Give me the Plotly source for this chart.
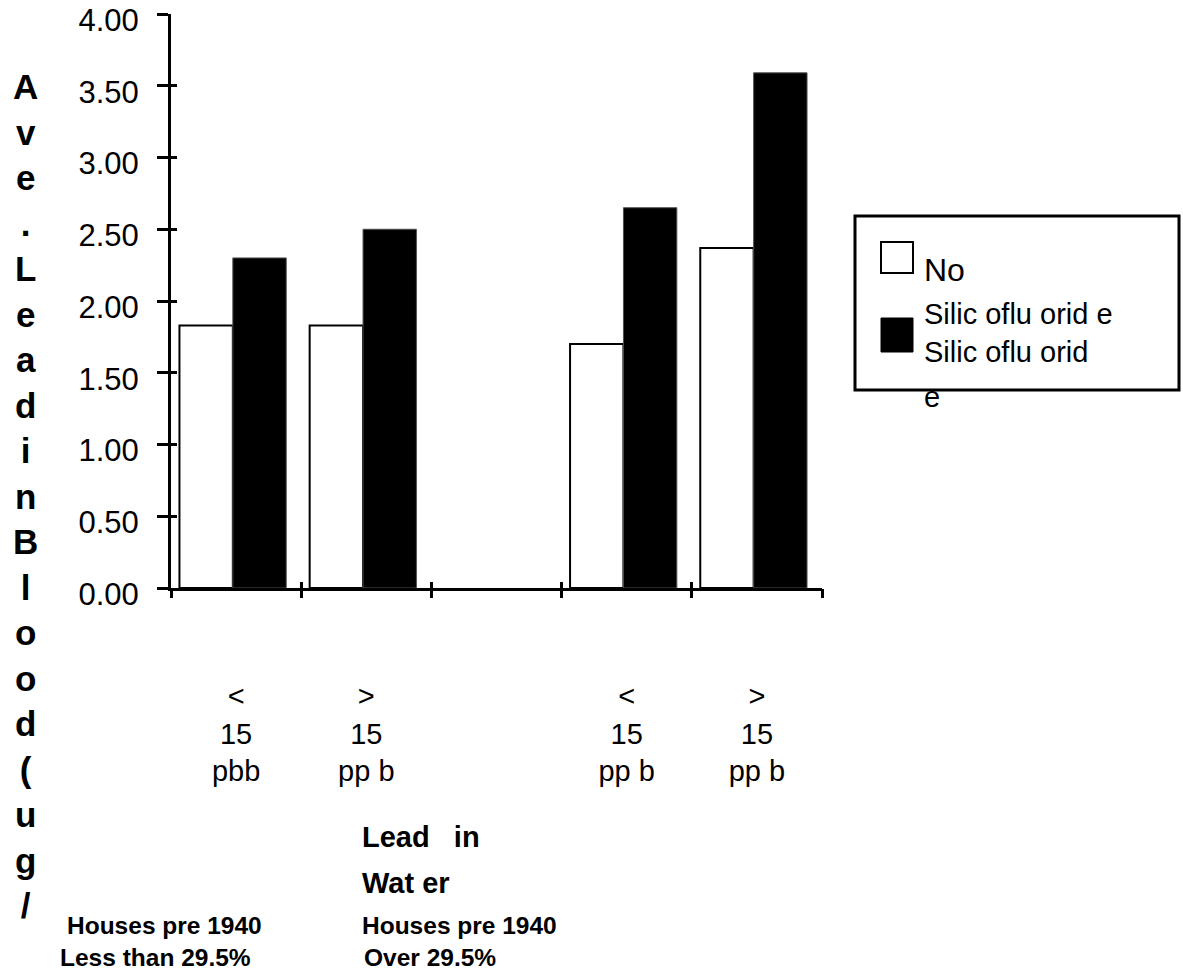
import plotly.graph_objects as go

# ---- data ----
categories = ["<<br>15<br>pbb", "><br>15<br>pp b", "", "<<br>15<br>pp b", "><br>15<br>pp b"]
no_silico = [1.83, 1.83, None, 1.70, 2.37]
silico = [2.30, 2.50, None, 2.65, 3.59]
y_ticks = [0, 0.5, 1.0, 1.5, 2.0, 2.5, 3.0, 3.5, 4.0]
y_title = "Ave. Lead in Blood (ug/"
legend_no = "No"
legend_si_lines = ["Silic oflu orid e", "Silic oflu orid", "e"]
x_title_lines = ["Lead   in", "Wat er"]
group_left = ["Houses pre 1940", "Less than 29.5%"]
group_right = ["Houses pre 1940", "Over 29.5%"]

positions = list(range(len(categories)))
boundaries = [p - 0.5 for p in positions] + [positions[-1] + 0.5]

W, H = 1183, 970
L, R_EDGE, T, B_EDGE = 171, 822, 14, 588
FONT = "Liberation Sans, Arial, sans-serif"


def px(x):
    return (x - L) / (R_EDGE - L)


def py(y):
    return (B_EDGE - y) / (B_EDGE - T)


fig = go.Figure()
fig.add_trace(go.Bar(
    x=positions, y=no_silico, width=0.41, offset=-0.435,
    marker=dict(color="white", line=dict(color="black", width=2)),
    name="No", showlegend=False,
))
fig.add_trace(go.Bar(
    x=positions, y=silico, width=0.41, offset=-0.025,
    marker=dict(color="black", line=dict(color="#505050", width=1)),
    name="Silicofluoride", showlegend=False,
))

axis_common = dict(showgrid=False, zeroline=False, automargin=False)

fig.update_layout(
    width=W, height=H,
    margin=dict(l=L, r=W - R_EDGE, t=T, b=H - B_EDGE, pad=0, autoexpand=False),
    paper_bgcolor="white", plot_bgcolor="white",
    font=dict(family=FONT, color="black"),
    barmode="overlay",
    showlegend=False,
    xaxis=dict(
        **axis_common, range=[-0.5, 4.5], tickvals=positions, ticktext=categories,
        ticks="", showline=True, linecolor="black", linewidth=3,
        tickfont=dict(size=29, family=FONT), ticklabelstandoff=80,
    ),
    xaxis2=dict(
        **axis_common, overlaying="x", anchor="y", side="bottom", range=[-0.5, 4.5],
        tickvals=boundaries, ticks="outside", ticklen=9, tickwidth=3, tickcolor="black",
        showticklabels=False, showline=False,
    ),
    xaxis3=dict(
        **axis_common, overlaying="x", anchor="y", side="bottom", range=[-0.5, 4.5],
        tickvals=boundaries, ticks="inside", ticklen=6, tickwidth=3, tickcolor="black",
        showticklabels=False, showline=False,
    ),
    yaxis=dict(
        **axis_common, range=[0, 4], tickvals=y_ticks, tickformat=".2f",
        ticks="outside", ticklen=11, tickwidth=3, tickcolor="black",
        showline=True, linecolor="black", linewidth=3,
        tickfont=dict(size=31, family=FONT), ticklabelstandoff=12, ticklabelshift=6,
    ),
    yaxis2=dict(
        **axis_common, overlaying="y", anchor="x", side="left", range=[0, 4],
        tickvals=y_ticks, ticks="inside", ticklen=6, tickwidth=3, tickcolor="black",
        showticklabels=False, showline=False,
    ),
)

# empty helper traces so the tick-only overlay axes are drawn
for xa in ("x2", "x3"):
    fig.add_trace(go.Scatter(x=[None], y=[None], xaxis=xa, yaxis="y", showlegend=False, hoverinfo="skip"))
fig.add_trace(go.Scatter(x=[None], y=[None], xaxis="x", yaxis="y2", showlegend=False, hoverinfo="skip"))

annotations = []
# vertical stacked y-axis title
annotations.append(dict(
    text="<br>".join(ch for ch in y_title if ch != " "),
    x=px(25), y=py(65), xref="paper", yref="paper", xanchor="center", yanchor="top",
    showarrow=False, align="center", font=dict(size=35, family=FONT, weight="bold"),
))
# x-axis title
for i, line in enumerate(x_title_lines):
    annotations.append(dict(
        text=line, x=px(360), y=py(837 + 46 * i), xref="paper", yref="paper",
        xanchor="left", yanchor="middle", showarrow=False,
        font=dict(size=29, family=FONT, weight="bold"),
    ))
# group notes
for i, line in enumerate(group_left):
    annotations.append(dict(
        text=line, x=px(65 - 7 * i), y=py(925 + 32 * i), xref="paper", yref="paper",
        xanchor="left", yanchor="middle", showarrow=False,
        font=dict(size=24.5, family=FONT, weight="bold"),
    ))
for i, line in enumerate(group_right):
    annotations.append(dict(
        text=line, x=px(360 + 2 * i), y=py(925 + 32 * i), xref="paper", yref="paper",
        xanchor="left", yanchor="middle", showarrow=False,
        font=dict(size=24.5, family=FONT, weight="bold"),
    ))
# manual legend texts
annotations.append(dict(
    text=legend_no, x=px(922), y=py(270), xref="paper", yref="paper",
    xanchor="left", yanchor="middle", showarrow=False, font=dict(size=32, family=FONT),
))
annotations.append(dict(
    text="<br>".join(legend_si_lines[:2]), x=px(922), y=py(333), xref="paper", yref="paper",
    xanchor="left", yanchor="middle", showarrow=False, align="left",
    font=dict(size=29, family=FONT),
))
annotations.append(dict(
    text=legend_si_lines[2], x=px(922), y=py(397), xref="paper", yref="paper",
    xanchor="left", yanchor="middle", showarrow=False, font=dict(size=29, family=FONT),
))

shapes = [
    dict(type="rect", xref="paper", yref="paper", x0=px(855), x1=px(1179), y0=py(390), y1=py(216),
         line=dict(color="black", width=3), fillcolor="rgba(0,0,0,0)", layer="below"),
    dict(type="rect", xref="paper", yref="paper", x0=px(881), x1=px(913), y0=py(273), y1=py(242),
         line=dict(color="black", width=2), fillcolor="white"),
    dict(type="rect", xref="paper", yref="paper", x0=px(881), x1=px(913), y0=py(352), y1=py(318),
         line=dict(color="black", width=1), fillcolor="black"),
]

fig.update_layout(annotations=annotations, shapes=shapes)
fig.write_html("out.html")
